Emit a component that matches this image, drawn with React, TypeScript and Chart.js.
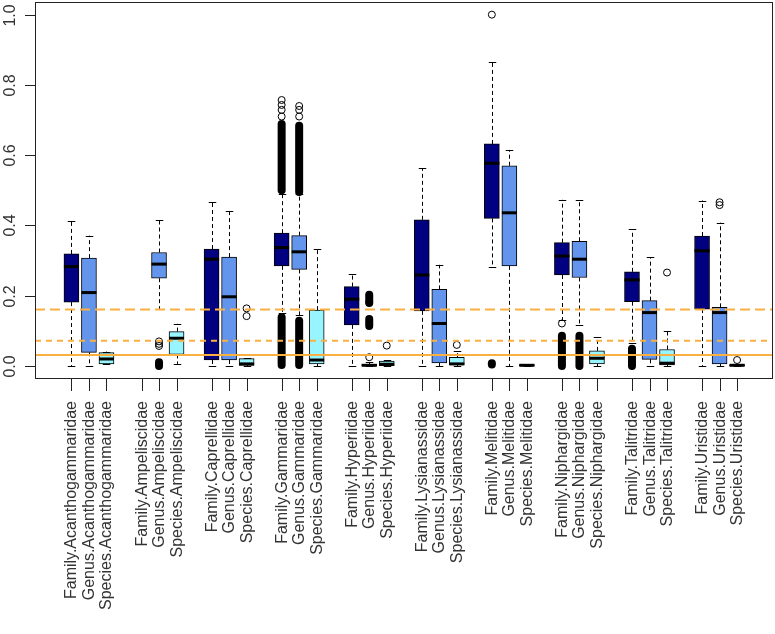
import React, { useEffect, useRef } from "react";
import { Chart, registerables } from "chart.js";

Chart.register(...registerables);

// ---------- data ----------
const families = [
  "Acanthogammaridae",
  "Ampeliscidae",
  "Caprellidae",
  "Gammaridae",
  "Hyperiidae",
  "Lysianassidae",
  "Melitidae",
  "Niphargidae",
  "Talitridae",
  "Uristidae",
];
const levels = ["Family", "Genus", "Species"];

const yTickValues = [0, 0.2, 0.4, 0.6, 0.8, 1.0];
const yTickLabels = ["0.0", "0.2", "0.4", "0.6", "0.8", "1.0"];

type Stat = [number, number, number, number, number] | null; // [lowWhisker, q1, median, q3, highWhisker]

const familyStats: Stat[] = [
  [0, 0.182, 0.283, 0.319, 0.413],
  null,
  [0, 0.017, 0.304, 0.333, 0.466],
  [0.15, 0.285, 0.337, 0.378, 0.49],
  [0, 0.117, 0.19, 0.226, 0.262],
  [0, 0.157, 0.259, 0.416, 0.563],
  [0.283, 0.42, 0.577, 0.632, 0.866],
  [0.13, 0.259, 0.313, 0.351, 0.473],
  [0.065, 0.183, 0.245, 0.268, 0.389],
  [0, 0.162, 0.328, 0.37, 0.471],
];

const genusStats: Stat[] = [
  [0, 0.039, 0.209, 0.307, 0.371],
  [0.161, 0.25, 0.29, 0.323, 0.416],
  [0, 0.017, 0.197, 0.31, 0.44],
  [0.145, 0.275, 0.325, 0.371, 0.49],
  [0, 0, 0.002, 0.005, 0.01],
  [0, 0.009, 0.121, 0.218, 0.288],
  [0, 0.285, 0.436, 0.57, 0.615],
  [0.117, 0.252, 0.304, 0.355, 0.473],
  [0, 0.019, 0.152, 0.186, 0.309],
  [0, 0.006, 0.152, 0.167, 0.408],
];

const speciesStats: Stat[] = [
  [0.005, 0.006, 0.02, 0.038, 0.041],
  [0.006, 0.033, 0.079, 0.098, 0.12],
  [0, 0.002, 0.006, 0.021, 0.022],
  [0, 0.006, 0.017, 0.159, 0.332],
  [0, 0.001, 0.005, 0.014, 0.016],
  [0, 0.003, 0.006, 0.025, 0.043],
  [0, 0, 0.002, 0.004, 0.005],
  [0, 0.006, 0.022, 0.043, 0.083],
  [0, 0.003, 0.008, 0.047, 0.1],
  [0, 0, 0.002, 0.004, 0.005],
];

// single outliers: [familyIndex, levelIndex, value]
const outlierPoints: [number, number, number][] = [
  [1, 1, 0.07], [1, 1, 0.063], [1, 1, 0.057],
  [2, 2, 0.164], [2, 2, 0.142],
  [3, 0, 0.757], [3, 0, 0.743], [3, 0, 0.729], [3, 0, 0.71],
  [3, 1, 0.74], [3, 1, 0.729], [3, 1, 0.71],
  [4, 1, 0.182], [4, 1, 0.025],
  [4, 2, 0.058],
  [5, 2, 0.06],
  [6, 0, 1.0],
  [7, 0, 0.121],
  [8, 2, 0.266],
  [9, 1, 0.466], [9, 1, 0.458],
  [9, 2, 0.017],
];

// dense runs of overlapping outliers: [familyIndex, levelIndex, low, high]
const outlierRuns: [number, number, number, number][] = [
  [1, 1, 0.0, 0.011],
  [3, 0, 0.5, 0.689], [3, 0, 0.003, 0.139],
  [3, 1, 0.495, 0.684], [3, 1, 0.003, 0.129],
  [4, 1, 0.179, 0.203], [4, 1, 0.114, 0.134],
  [6, 0, 0.004, 0.008],
  [7, 0, 0.0, 0.086], [7, 1, 0.0, 0.086],
  [8, 0, 0.0, 0.049],
];

const thresholdValues = [0.161, 0.072, 0.031];

// ---------- styles ----------
const levelColors = ["#000080", "#6495ED", "#98F5FF"];
const thresholdDashes = [[10, 5], [6, 5], []];
const thresholdColor = "#F9B040";
const BOX_W = 15;
const FONT = '16px "Liberation Sans", Arial, sans-serif';
const TEXT_COLOR = "#333";

const allStats = [familyStats, genusStats, speciesStats];
const slot = (g: number, l: number) => g * 4 + l + 1;

const boxExtras = {
  id: "boxExtras",
  beforeDatasetsDraw(chart: any) {
    const { ctx, chartArea } = chart;
    const xs = chart.scales.x;
    const ys = chart.scales.y;
    ctx.save();
    ctx.beginPath();
    ctx.rect(chartArea.left, chartArea.top, chartArea.right - chartArea.left, chartArea.bottom - chartArea.top);
    ctx.clip();
    ctx.strokeStyle = "#000";
    ctx.lineWidth = 1;
    allStats.forEach((stats, l) => {
      stats.forEach((s, g) => {
        if (!s) return;
        const x = Math.round(xs.getPixelForValue(slot(g, l))) + 0.5;
        const [lo, q1, , q3, hi] = s;
        const seg = (a: number, b: number) => {
          const pa = ys.getPixelForValue(a);
          const pb = ys.getPixelForValue(b);
          ctx.setLineDash([4, 3]);
          ctx.beginPath();
          ctx.moveTo(x, pa);
          ctx.lineTo(x, pb);
          ctx.stroke();
          ctx.setLineDash([]);
          ctx.beginPath();
          ctx.moveTo(x - BOX_W / 4, Math.round(pb) + 0.5);
          ctx.lineTo(x + BOX_W / 4, Math.round(pb) + 0.5);
          ctx.stroke();
        };
        seg(q3, hi);
        seg(q1, lo);
      });
    });
    ctx.restore();
  },
  afterDatasetsDraw(chart: any) {
    const { ctx, chartArea } = chart;
    const xs = chart.scales.x;
    const ys = chart.scales.y;
    ctx.save();
    ctx.beginPath();
    ctx.rect(chartArea.left, chartArea.top, chartArea.right - chartArea.left, chartArea.bottom - chartArea.top);
    ctx.clip();
    // medians
    ctx.strokeStyle = "#000";
    allStats.forEach((stats, l) => {
      stats.forEach((s, g) => {
        if (!s) return;
        const x = xs.getPixelForValue(slot(g, l));
        const y = ys.getPixelForValue(s[2]);
        ctx.lineWidth = 3;
        ctx.beginPath();
        ctx.moveTo(x - BOX_W / 2, y);
        ctx.lineTo(x + BOX_W / 2, y);
        ctx.stroke();
      });
    });
    // dense outlier runs
    ctx.lineCap = "round";
    ctx.lineWidth = 8;
    outlierRuns.forEach(([g, l, lo, hi]) => {
      const x = xs.getPixelForValue(slot(g, l));
      ctx.beginPath();
      ctx.moveTo(x, ys.getPixelForValue(lo));
      ctx.lineTo(x, ys.getPixelForValue(hi));
      ctx.stroke();
    });
    ctx.lineCap = "butt";
    // single outliers
    ctx.lineWidth = 1;
    outlierPoints.forEach(([g, l, v]) => {
      const x = xs.getPixelForValue(slot(g, l));
      const y = ys.getPixelForValue(v);
      ctx.beginPath();
      ctx.arc(x, y, 3.5, 0, Math.PI * 2);
      ctx.stroke();
    });
    // threshold lines
    ctx.strokeStyle = thresholdColor;
    ctx.lineWidth = 2;
    thresholdValues.forEach((v, i) => {
      const y = ys.getPixelForValue(v);
      ctx.setLineDash(thresholdDashes[i]);
      ctx.beginPath();
      ctx.moveTo(chartArea.left, y);
      ctx.lineTo(chartArea.right, y);
      ctx.stroke();
    });
    ctx.setLineDash([]);
    ctx.restore();
  },
  afterDraw(chart: any) {
    const { ctx, chartArea } = chart;
    const xs = chart.scales.x;
    const ys = chart.scales.y;
    ctx.save();
    // frame
    ctx.strokeStyle = "#222";
    ctx.lineWidth = 1;
    ctx.strokeRect(
      Math.round(chartArea.left) + 0.5,
      Math.round(chartArea.top) + 0.5,
      Math.round(chartArea.right - chartArea.left) - 1,
      Math.round(chartArea.bottom - chartArea.top) - 1
    );
    ctx.font = FONT;
    ctx.fillStyle = TEXT_COLOR;
    // y ticks
    yTickValues.forEach((v, i) => {
      const y = Math.round(ys.getPixelForValue(v)) + 0.5;
      ctx.beginPath();
      ctx.moveTo(chartArea.left - 10, y);
      ctx.lineTo(chartArea.left, y);
      ctx.stroke();
      ctx.save();
      ctx.translate(15, y);
      ctx.rotate(-Math.PI / 2);
      ctx.textAlign = "center";
      ctx.textBaseline = "alphabetic";
      ctx.fillText(yTickLabels[i], 0, 0);
      ctx.restore();
    });
    // x ticks and labels
    families.forEach((fam, g) => {
      levels.forEach((lev, l) => {
        const x = Math.round(xs.getPixelForValue(slot(g, l))) + 0.5;
        ctx.beginPath();
        ctx.moveTo(x, chartArea.bottom);
        ctx.lineTo(x, chartArea.bottom + 12);
        ctx.stroke();
        ctx.save();
        ctx.translate(x, chartArea.bottom + 22);
        ctx.rotate(-Math.PI / 2);
        ctx.textAlign = "right";
        ctx.textBaseline = "middle";
        ctx.fillText(lev + "." + fam, 0, 0);
        ctx.restore();
      });
    });
    ctx.restore();
  },
};

export default function App() {
  const ref = useRef<HTMLCanvasElement | null>(null);
  useEffect(() => {
    if (!ref.current) return;
    const datasets = allStats.map((stats, l) => ({
      label: levels[l],
      data: stats
        .map((s, g) => (s ? { x: slot(g, l), y: [s[1], s[3]] } : null))
        .filter((d) => d !== null),
      backgroundColor: levelColors[l],
      borderColor: "#000",
      borderWidth: 1,
      borderSkipped: false,
      barThickness: BOX_W,
      grouped: false,
    }));
    const chart = new Chart(ref.current, {
      type: "bar",
      data: { datasets: datasets as any },
      options: {
        animation: false,
        responsive: false,
        devicePixelRatio: 1,
        layout: { padding: { left: 35, right: 2, top: 2, bottom: 255 } },
        plugins: { legend: { display: false }, tooltip: { enabled: false } },
        scales: {
          x: { type: "linear", offset: false, min: -1.08, max: 41.05, display: false, grid: { display: false } },
          y: { type: "linear", min: -0.037, max: 1.036, display: false, grid: { display: false } },
        },
      },
      plugins: [boxExtras],
    });
    return () => chart.destroy();
  }, []);
  return (
    <div style={{ position: "fixed", left: 0, top: 0, width: 775, height: 634, background: "#fff" }}>
      <canvas ref={ref} width={775} height={634} />
    </div>
  );
}
